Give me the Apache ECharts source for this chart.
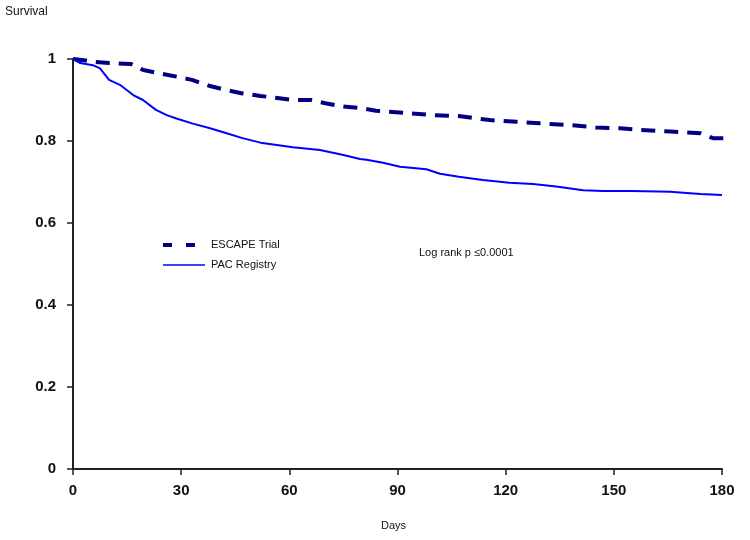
<!DOCTYPE html>
<html><head><meta charset="utf-8">
<script src="https://cdn.jsdelivr.net/npm/echarts@6/dist/echarts.min.js"></script>
<style>html,body{margin:0;padding:0;background:#fff}#c{width:750px;height:540px}</style>
</head><body><div id="c"></div>
<script>
const escapeDays = [0,3,6,10,16,19.5,24,28.7,33,38,42.6,47,52,61,66,70,75,80,84,92.5,100,107,112,115.6,123,129.5,138,145,151.7,157,165.6,174,177.5,184];
const escapeSurv = [1.0,0.997,0.993,0.99,0.988,0.973,0.965,0.957,0.949,0.934,0.924,0.916,0.91,0.90,0.90,0.892,0.884,0.88,0.874,0.868,0.863,0.861,0.855,0.851,0.847,0.843,0.839,0.833,0.831,0.827,0.823,0.819,0.807,0.807];
const pacDays = [0,2,5.5,7.5,10,13,16.7,19.4,23,26,28.7,33,38,42.6,47,52,61,68.5,75,79.6,81.4,86,90.7,98,101.8,107,113.7,121,127.6,134,141.5,147,155,165.6,174,180];
const pacSurv = [1.0,0.99,0.985,0.977,0.949,0.937,0.912,0.90,0.876,0.863,0.855,0.843,0.831,0.819,0.807,0.796,0.785,0.778,0.766,0.756,0.754,0.747,0.737,0.731,0.72,0.713,0.705,0.698,0.695,0.689,0.68,0.678,0.678,0.676,0.671,0.668];
const xTicks = [0,30,60,90,120,150,180];
const yTicks = [0,0.2,0.4,0.6,0.8,1];
const seriesNames = ['ESCAPE Trial','PAC Registry'];

const chart = echarts.init(document.getElementById('c'));
const F = 'Liberation Sans, Arial, sans-serif';
const navy = '#000080', blue = '#0000FF';
chart.setOption({
  animation:false,
  grid:{left:73,right:28,top:59,bottom:71},
  xAxis:{type:'value',min:0,max:180,interval:30,
    axisLine:{lineStyle:{color:'#222',width:2}},
    axisTick:{show:true,length:6,lineStyle:{color:'#222',width:1.5}},
    axisLabel:{margin:14,fontFamily:F,fontWeight:'bold',fontSize:15,color:'#111',
      formatter:v=>xTicks.includes(v)?String(v):''},
    splitLine:{show:false}},
  yAxis:{type:'value',min:0,max:1,interval:0.2,
    axisLine:{show:true,lineStyle:{color:'#222',width:2}},
    axisTick:{show:true,length:6,lineStyle:{color:'#222',width:1.5}},
    axisLabel:{margin:17,fontFamily:F,fontWeight:'bold',fontSize:15,color:'#111',
      formatter:v=>{const t=yTicks.find(a=>Math.abs(a-v)<1e-9);return t===undefined?'':String(Math.round(t*10)/10);}},
    splitLine:{show:false}},
  graphic:[
    {type:'text',left:5,top:6,style:{text:'Survival',font:'12px '+F,fill:'#111'}},
    {type:'text',left:381,top:520,style:{text:'Days',font:'11px '+F,fill:'#111'}},
    {type:'text',left:419,top:247,style:{text:'Log rank p \u22640.0001',font:'11px '+F,fill:'#111'}},
    {type:'line',shape:{x1:163,y1:245,x2:195,y2:245},style:{stroke:navy,lineWidth:4,lineDash:[9,14]}},
    {type:'text',left:211,top:239,style:{text:seriesNames[0],font:'11px '+F,fill:'#111'}},
    {type:'line',shape:{x1:163,y1:265,x2:205,y2:265},style:{stroke:blue,lineWidth:1.5}},
    {type:'text',left:211,top:259,style:{text:seriesNames[1],font:'11px '+F,fill:'#111'}}
  ],
  series:[
    {name:seriesNames[0],type:'line',symbol:'none',clip:false,
      data:escapeDays.map((d,i)=>[d,escapeSurv[i]]),
      lineStyle:{color:navy,width:4,type:[14,9]},itemStyle:{color:navy}},
    {name:seriesNames[1],type:'line',symbol:'none',clip:false,
      data:pacDays.map((d,i)=>[d,pacSurv[i]]),
      lineStyle:{color:blue,width:2},itemStyle:{color:blue}}
  ]
});
</script></body></html>
